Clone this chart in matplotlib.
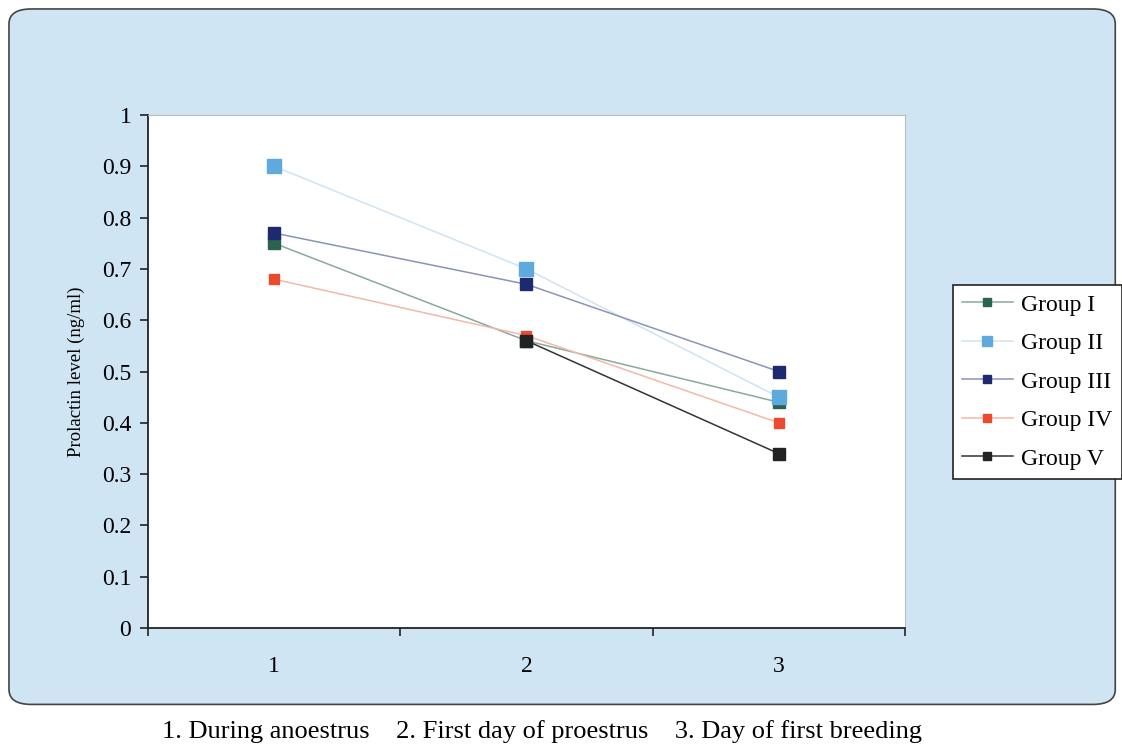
import matplotlib
matplotlib.use('Agg')
import matplotlib.pyplot as plt
import numpy as np
from matplotlib.patches import FancyBboxPatch

plt.rcParams['font.family'] = ['Liberation Serif', 'DejaVu Serif']

stages = [1, 2, 3]
stage_labels = ['1', '2', '3']
groups = ['Group I', 'Group II', 'Group III', 'Group IV', 'Group V']
group_1 = [0.75, 0.56, 0.44]
group_2 = [0.90, 0.70, 0.45]
group_3 = [0.77, 0.67, 0.50]
group_4 = [0.68, 0.57, 0.40]
group_5 = [np.nan, 0.56, 0.34]
caption = '1. During anoestrus    2. First day of proestrus    3. Day of first breeding'

marker_colors = ['#2a6450', '#5ea9dd', '#1e2a70', '#ea4a2e', '#222222']
line_colors = ['#8aa89c', '#cfe3f2', '#8c93b8', '#f3b8a8', '#333333']
marker_sizes = [8, 10, 8, 7, 8]

fig = plt.figure(figsize=(11.22, 7.47), dpi=100)

# rounded light-blue panel behind the chart
bg = FancyBboxPatch((0.008, 0.057), 0.986, 0.931, boxstyle='round,pad=0,rounding_size=0.02',
                    transform=fig.transFigure, facecolor='#cfe5f4', edgecolor='#444444',
                    linewidth=1.2, zorder=-5)
fig.patches.append(bg)

ax = fig.add_axes([0.1319, 0.1593, 0.6747, 0.6867])
ax.set_facecolor('white')

series = [group_1, group_2, group_3, group_4, group_5]
for vals, name, mc, lc, ms in zip(series, groups, marker_colors, line_colors, marker_sizes):
    ax.plot(stages, vals, color=lc, lw=1.1, marker='s', markersize=ms,
            markerfacecolor=mc, markeredgecolor=mc, label=name)

ax.set_xlim(0.5, 3.5)
ax.set_ylim(0, 1)
ax.set_yticks(np.arange(0, 1.01, 0.1))
ax.set_yticklabels(['0', '0.1', '0.2', '0.3', '0.4', '0.5', '0.6', '0.7', '0.8', '0.9', '1'])
ax.set_xticks([0.5, 1.5, 2.5, 3.5])
ax.set_xticklabels([])
ax.set_xticks(stages, minor=True)
ax.set_xticklabels(stage_labels, minor=True)
ax.tick_params(axis='x', which='major', direction='out', length=6, width=1.2, color='#222222')
ax.tick_params(axis='x', which='minor', length=0, pad=20, labelsize=17)
ax.tick_params(axis='y', direction='out', length=6, width=1.2, color='#222222', labelsize=17, pad=6)

for side in ['left', 'bottom']:
    ax.spines[side].set_color('#222222')
    ax.spines[side].set_linewidth(1.3)
for side in ['top', 'right']:
    ax.spines[side].set_color('#bbbbbb')
    ax.spines[side].set_linewidth(0.8)

ax.set_ylabel('Prolactin level (ng/ml)', fontsize=13.5, labelpad=12)

leg = fig.legend(loc='upper left', bbox_to_anchor=(0.849, 0.619), fontsize=17,
                 frameon=True, fancybox=False, edgecolor='#222222', framealpha=1,
                 labelspacing=0.72, handlelength=2.15, borderpad=0.4, handletextpad=0.35,
                 markerscale=0.75, borderaxespad=0)
leg.get_frame().set_linewidth(1.2)

fig.text(0.4835, 0.021, caption, ha='center', va='center', fontsize=19)

fig.savefig('out.png', dpi=100)
